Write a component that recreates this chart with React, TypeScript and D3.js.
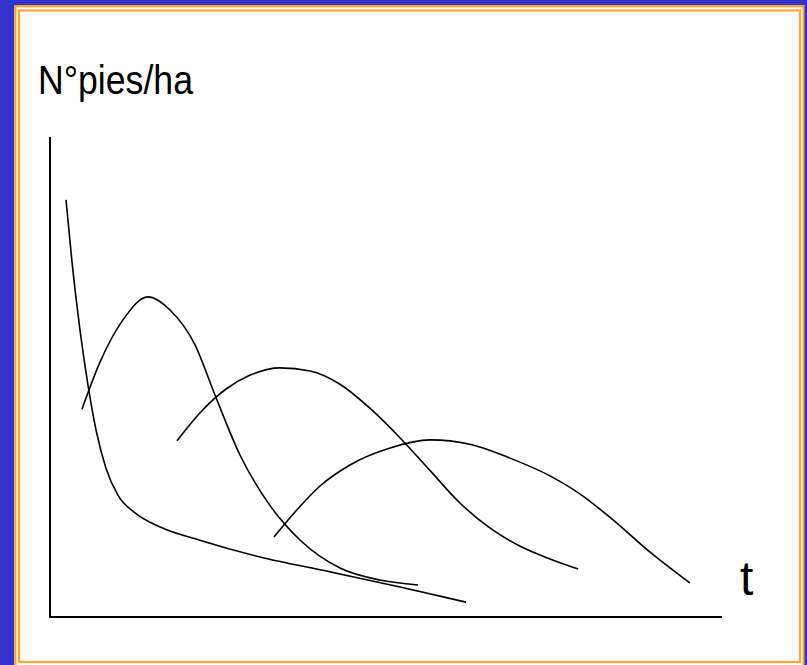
import React from "react";
import * as d3 from "d3";

// Curves in abstract units: x = time (0..100), y = number of trees per ha (0..100)
const curveA: [number, number][] = [
  [2.38, 86.9], [3.27, 74.0], [4.46, 59.8], [5.65, 48.3], [6.85, 38.96], [8.33, 31.0],
  [10.1, 25.4], [12.65, 21.7], [16.4, 18.75], [22.3, 16.0], [31.25, 12.5], [41.7, 9.4],
  [52.1, 6.25], [61.9, 3.1],
];
const curveB: [number, number][] = [
  [4.76, 43.3], [7.44, 53.1], [10.86, 61.9], [14.58, 66.7], [17.86, 63.96], [21.58, 56.7],
  [24.55, 46.25], [28.27, 33.75], [32.7, 23.3], [37.2, 16.04], [43.15, 10.2], [49.1, 7.7],
  [54.76, 6.67],
];
const curveC: [number, number][] = [
  [18.9, 36.7], [22.3, 42.5], [26.2, 47.5], [29.8, 50.4], [34.2, 51.9], [38.7, 51.25],
  [43.15, 48.5], [47.6, 43.5], [52.1, 37.3], [56.5, 30.6], [61.0, 23.75], [65.5, 18.5],
  [69.9, 14.8], [74.4, 12.1], [78.6, 10.0],
];
const curveD: [number, number][] = [
  [33.33, 16.67], [36.46, 21.88], [40.18, 27.29], [44.64, 31.67], [50.6, 35.2], [56.55, 36.9],
  [62.5, 36.0], [68.45, 33.1], [74.4, 29.4], [78.9, 25.6], [83.3, 20.8], [89.3, 13.5],
  [95.2, 7.1],
];
const series = [curveA, curveB, curveC, curveD];
const yLabel = "N°pies/ha";
const xLabel = "t";

export default function App() {
  const W = 807, H = 665;
  const x = d3.scaleLinear().domain([0, 100]).range([50, 722]);
  const y = d3.scaleLinear().domain([0, 100]).range([617, 137]);
  const line = d3
    .line<[number, number]>()
    .x((d) => x(d[0]))
    .y((d) => y(d[1]))
    .curve(d3.curveMonotoneX);
  const blue = "#3333cc";
  const orange = "#ffa630";
  return (
    <svg
      width={W}
      height={H}
      style={{ position: "fixed", left: 0, top: 0, display: "block" }}
    >
      <rect x={0} y={0} width={W} height={H} fill={blue} />
      <rect x={14} y={5} width={790.5} height={700} fill={orange} />
      <rect x={16.5} y={7.3} width={786} height={700} fill="#ffffff" />
      <rect x={19} y={10.5} width={781} height={651.5} fill="#ffffff" stroke={orange} strokeWidth={2.2} />
      <text
        x={38}
        y={94}
        fontFamily="'Liberation Sans', Arial, sans-serif"
        fontSize={40}
        fill="#000"
        textLength={155}
        lengthAdjust="spacingAndGlyphs"
      >
        {yLabel}
      </text>
      <text
        x={740}
        y={595}
        fontFamily="'Liberation Sans', Arial, sans-serif"
        fontSize={48}
        fill="#000"
      >
        {xLabel}
      </text>
      <line x1={x(0)} x2={x(0)} y1={y(100)} y2={y(0) + 1} stroke="#000" strokeWidth={2} />
      <line x1={x(0) - 1} x2={x(100)} y1={y(0)} y2={y(0)} stroke="#000" strokeWidth={2} />
      {series.map((s, i) => (
        <path key={i} d={line(s) || ""} fill="none" stroke="#000" strokeWidth={1.6} />
      ))}
    </svg>
  );
}
